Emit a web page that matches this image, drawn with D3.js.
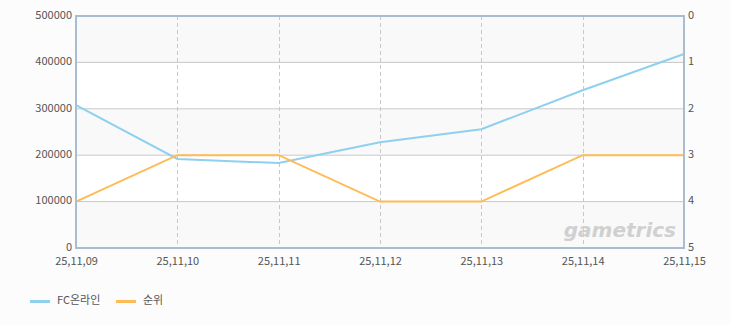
<!DOCTYPE html>
<html>
<head>
<meta charset="utf-8">
<script src="https://cdn.jsdelivr.net/npm/d3@7"></script>
<style>
  body { margin: 0; background: #fcfcfc; }
  text { font-family: "Noto Sans CJK KR", "DejaVu Sans", sans-serif; }
</style>
</head>
<body>
<svg id="chart" width="730" height="325"></svg>
<script>
// data
var dates = ["25,11,09", "25,11,10", "25,11,11", "25,11,12", "25,11,13", "25,11,14", "25,11,15"];
var users = [308000, 192000, 183000, 228000, 256000, 340000, 418000];
var rank = [4, 3, 3, 4, 4, 3, 3];
var leftTicks = [0, 100000, 200000, 300000, 400000, 500000];
var rightTicks = [0, 1, 2, 3, 4, 5];
var seriesNames = ["FC온라인", "순위"];
var colors = ["#8fd0ef", "#ffbb55"];

var svg = d3.select("#chart");
var margin = { top: 16, right: 46, bottom: 77, left: 76 };
var width = 730 - margin.left - margin.right;
var height = 325 - margin.top - margin.bottom;

var g = svg.append("g")
    .attr("transform", "translate(" + margin.left + "," + margin.top + ")");

var x = d3.scalePoint().domain(dates).range([0, width]);
var y = d3.scaleLinear().domain([0, 500000]).range([height, 0]);
var y2 = d3.scaleLinear().domain([0, 5]).range([0, height]);

// alternating bands
g.selectAll(".band")
    .data(leftTicks.slice(0, -1))
    .enter().append("rect")
    .attr("x", 0)
    .attr("width", width)
    .attr("y", function(d) { return y(d + 100000); })
    .attr("height", function(d) { return y(d) - y(d + 100000); })
    .style("fill", function(d, i) { return i % 2 == 0 ? "#f9f9f9" : "#ffffff"; });

// horizontal grid
g.selectAll(".hgrid")
    .data(leftTicks.slice(1, -1))
    .enter().append("line")
    .attr("x1", 0).attr("x2", width)
    .attr("y1", function(d) { return y(d); })
    .attr("y2", function(d) { return y(d); })
    .style("stroke", "#c8c8c8")
    .style("stroke-width", 1);

// vertical dashed grid
g.selectAll(".vgrid")
    .data(dates.slice(1, -1))
    .enter().append("line")
    .attr("x1", function(d) { return Math.round(x(d)) + 0.5; })
    .attr("x2", function(d) { return Math.round(x(d)) + 0.5; })
    .attr("y1", 0).attr("y2", height)
    .style("stroke", "#c8c8c8")
    .style("stroke-dasharray", "4,3");

// watermark
g.append("text")
    .attr("x", width - 8)
    .attr("y", height - 11)
    .attr("text-anchor", "end")
    .style("font-family", "DejaVu Sans")
    .style("font-weight", "bold")
    .style("font-style", "italic")
    .style("font-size", "20px")
    .style("fill", "#d0d0d0")
    .text("gametrics");

// lines
var line1 = d3.line()
    .x(function(d, i) { return x(dates[i]); })
    .y(function(d) { return y(d); });
var line2 = d3.line()
    .x(function(d, i) { return x(dates[i]); })
    .y(function(d) { return y2(d); });

g.append("path").datum(users)
    .attr("d", line1)
    .style("fill", "none")
    .style("stroke", colors[0])
    .style("stroke-width", 2);

g.append("path").datum(rank)
    .attr("d", line2)
    .style("fill", "none")
    .style("stroke", colors[1])
    .style("stroke-width", 2);

// frame
g.append("rect")
    .attr("x", 0).attr("y", 0)
    .attr("width", width).attr("height", height)
    .style("fill", "none")
    .style("stroke", "#a8bdd2")
    .style("stroke-width", 2);

// axes
var leftAxis = g.append("g")
    .call(d3.axisLeft(y).tickValues(leftTicks).tickFormat(d3.format("d")).tickSize(0).tickPadding(4));
var rightAxis = g.append("g")
    .attr("transform", "translate(" + width + ",0)")
    .call(d3.axisRight(y2).tickValues(rightTicks).tickFormat(d3.format("d")).tickSize(0).tickPadding(4));
var bottomAxis = g.append("g")
    .attr("transform", "translate(0," + height + ")")
    .call(d3.axisBottom(x).tickSize(0).tickPadding(9));

[leftAxis, rightAxis, bottomAxis].forEach(function(a) {
    a.select(".domain").remove();
    a.selectAll("text")
        .style("font-size", "11px")
        .style("fill", "#555555");
});
leftAxis.selectAll("text").attr("dy", "0.2em");
rightAxis.selectAll("text").attr("dy", "0.2em");

// legend
var legend = svg.append("g").attr("transform", "translate(30,300)");
var offsets = [0, 86];
seriesNames.forEach(function(name, i) {
    var item = legend.append("g").attr("transform", "translate(" + offsets[i] + ",0)");
    item.append("line")
        .attr("x1", 0).attr("x2", 20)
        .attr("y1", 1.5).attr("y2", 1.5)
        .style("stroke", colors[i])
        .style("stroke-width", 3);
    item.append("text")
        .attr("x", 27).attr("y", 0)
        .attr("dy", "0.35em")
        .style("font-size", "11px")
        .style("fill", "#555555")
        .text(name);
});
</script>
</body>
</html>
